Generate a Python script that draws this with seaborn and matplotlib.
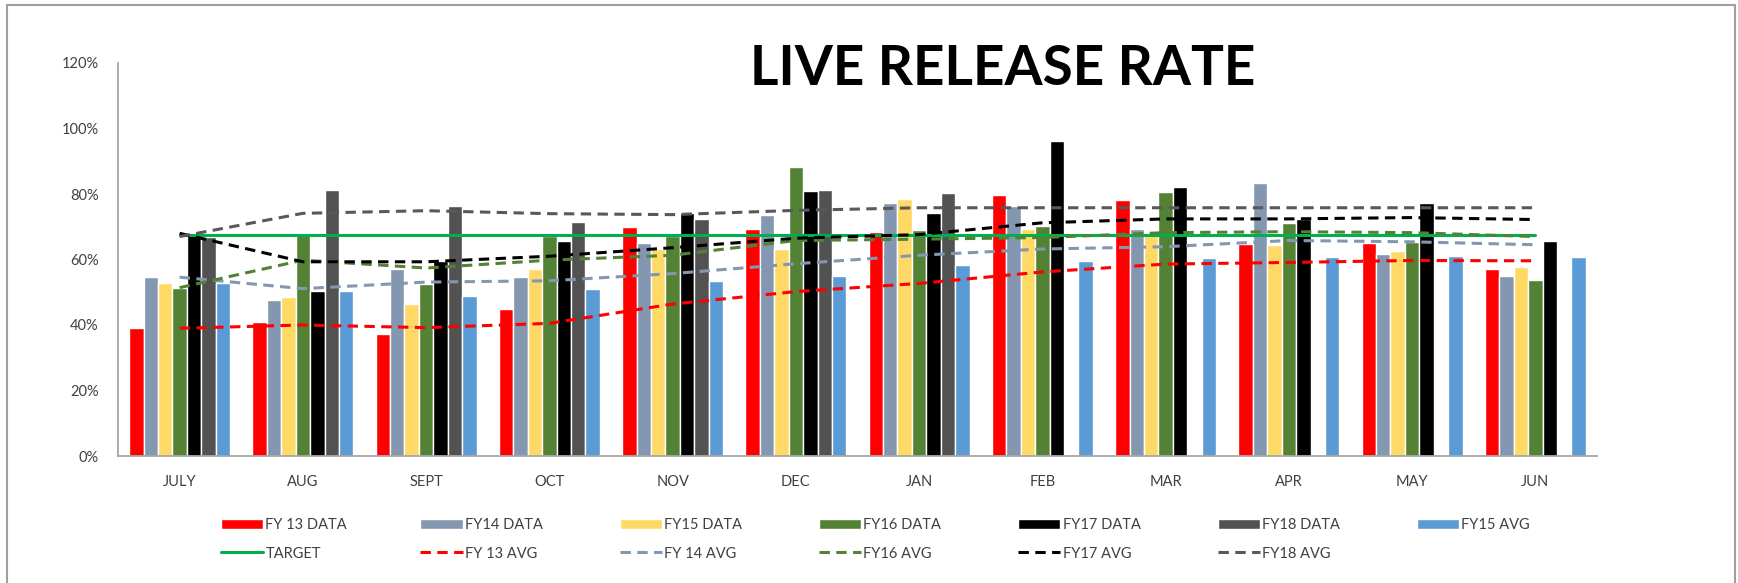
import numpy as np
import pandas as pd
import matplotlib
matplotlib.use("Agg")
import matplotlib.pyplot as plt
import seaborn as sns
from matplotlib.patches import Patch, Rectangle
from matplotlib.lines import Line2D
from matplotlib.ticker import PercentFormatter

nan = np.nan

# months of the fiscal year
months = ["JULY", "AUG", "SEPT", "OCT", "NOV", "DEC", "JAN", "FEB", "MAR", "APR", "MAY", "JUN"]

# monthly live release rate (bars)
fy13 = [0.390, 0.410, 0.374, 0.448, 0.698, 0.694, 0.685, 0.797, 0.781, 0.648, 0.649, 0.570]
fy14 = [0.546, 0.476, 0.570, 0.546, 0.649, 0.735, 0.772, 0.764, 0.693, 0.834, 0.616, 0.550]
fy15 = [0.529, 0.484, 0.463, 0.571, 0.632, 0.632, 0.784, 0.693, 0.680, 0.644, 0.625, 0.578]
fy16 = [0.514, 0.682, 0.525, 0.672, 0.672, 0.883, 0.689, 0.702, 0.805, 0.711, 0.653, 0.537]
fy17 = [0.680, 0.505, 0.595, 0.658, 0.743, 0.809, 0.743, 0.961, 0.821, 0.723, 0.772, 0.656]
fy18 = [0.670, 0.812, 0.764, 0.715, 0.723, 0.813, 0.804, nan, nan, nan, nan, nan]
fy15_avg = [0.529, 0.505, 0.489, 0.509, 0.533, 0.550, 0.582, 0.595, 0.604, 0.608, 0.612, 0.608]

# running averages (dashed lines)
fy13_avg = [0.390, 0.400, 0.392, 0.405, 0.464, 0.502, 0.527, 0.562, 0.586, 0.591, 0.597, 0.596]
fy14_avg = [0.546, 0.511, 0.531, 0.535, 0.557, 0.587, 0.613, 0.632, 0.639, 0.658, 0.654, 0.645]
fy16_avg = [0.514, 0.598, 0.574, 0.598, 0.613, 0.658, 0.662, 0.667, 0.682, 0.685, 0.682, 0.670]
fy17_avg = [0.680, 0.593, 0.593, 0.610, 0.636, 0.665, 0.676, 0.712, 0.724, 0.724, 0.728, 0.722]
fy18_avg = [0.670, 0.741, 0.749, 0.740, 0.737, 0.750, 0.758, 0.758, 0.758, 0.758, 0.758, 0.758]
target = 0.675

bar_names = ["FY 13 DATA", "FY14 DATA", "FY15 DATA", "FY16 DATA", "FY17 DATA", "FY18 DATA", "FY15 AVG"]
bar_colors = ["#FF0000", "#8497B0", "#FFD966", "#548235", "#000000", "#525252", "#5B9BD5"]
line_names = ["FY 13 AVG", "FY 14 AVG", "FY16 AVG", "FY17 AVG", "FY18 AVG"]
line_colors = ["#FF0000", "#8497B0", "#548235", "#000000", "#595959"]

bars = [fy13, fy14, fy15, fy16, fy17, fy18, fy15_avg]
lines = [fy13_avg, fy14_avg, fy16_avg, fy17_avg, fy18_avg]

df = pd.DataFrame({
    "month": months * len(bar_names),
    "series": [n for n in bar_names for _ in months],
    "value": [v for b in bars for v in b],
})

sns.set_style("white")
plt.rcParams["font.family"] = ["Lato", "DejaVu Sans"]

W, H = 1738, 583
DASH = (0, (3.4, 2.1))
fig = plt.figure(figsize=(W / 100, H / 100), dpi=100)
ax = fig.add_axes([118 / W, 1 - 456 / H, (1597 - 118) / W, (456 - 63) / H])

sns.barplot(data=df, x="month", y="value", hue="series", order=months, hue_order=bar_names,
            palette=dict(zip(bar_names, bar_colors)), width=0.82, gap=0, saturation=1,
            errorbar=None, legend=False, ax=ax)

xs = np.arange(len(months))
sns.lineplot(x=xs, y=[target] * len(months), color="#00B050", linewidth=2.2, ax=ax)
for vals, c in zip(lines, line_colors):
    sns.lineplot(x=xs, y=vals, color=c, linewidth=2.2, linestyle=DASH, ax=ax)

ax.set_xlim(-0.5, len(months) - 0.5)
ax.set_ylim(0, 1.2)
ax.set_yticks(np.arange(0, 1.21, 0.2))
ax.yaxis.set_major_formatter(PercentFormatter(1.0, decimals=0))
ax.set_xlabel("")
ax.set_ylabel("")
ax.tick_params(axis="both", length=0, labelsize=10.5, labelcolor="#404040")
ax.tick_params(axis="y", pad=14)
ax.tick_params(axis="x", pad=14)
for s in ["top", "right"]:
    ax.spines[s].set_visible(False)
for s in ["left", "bottom"]:
    ax.spines[s].set_color("#A6A6A6")
    ax.spines[s].set_linewidth(1.3)

fig.text(1003 / W, 1 - 69 / H, "LIVE RELEASE RATE", ha="center", va="center",
         fontsize=39.5, fontweight="bold", color="black")

# legend: seven columns laid out like the original
row1 = [Patch(facecolor=c, label=n) for n, c in zip(bar_names, bar_colors)]
row2 = [Line2D([], [], color="#00B050", lw=2.2, label="TARGET")]
row2 += [Line2D([], [], color=c, lw=2.2, linestyle=DASH, label=n)
         for n, c in zip(line_names, line_colors)]
for i in range(7):
    handles = [row1[i]] + ([row2[i]] if i < len(row2) else [])
    fig.legend(handles=handles, loc="upper left",
               bbox_to_anchor=((221 + 199.3 * i) / W, 1 - 518 / H),
               frameon=False, borderpad=0, borderaxespad=0, fontsize=10.5,
               handlelength=2.9, handleheight=0.7, handletextpad=0.15,
               labelspacing=1.0, labelcolor="#404040")

fig.add_artist(Rectangle((7 / W, -0.02), (1735 - 7) / W, 1 - 5 / H + 0.02,
                         transform=fig.transFigure, fill=False,
                         edgecolor="#A0A0A0", linewidth=1.5))

fig.savefig("out.png", dpi=100)
